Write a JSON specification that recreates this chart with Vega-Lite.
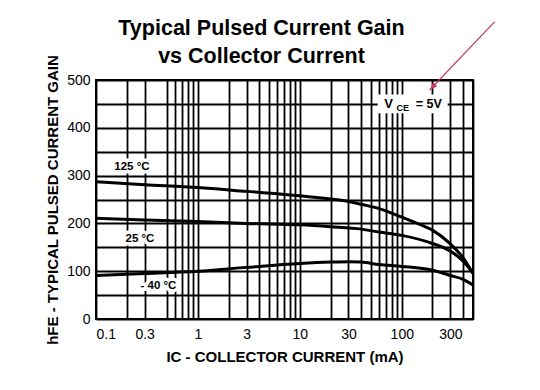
{
  "$schema": "https://vega.github.io/schema/vega-lite/v6.json",
  "autosize": {"type": "none"},
  "width": 377,
  "height": 239,
  "padding": {"left": 96, "top": 80, "right": 67, "bottom": 71},
  "background": "white",
  "config": {
    "font": "Liberation Sans",
    "view": {"stroke": "black", "strokeWidth": 2},
    "axis": {
      "grid": true, "gridColor": "black", "gridWidth": 1.8, "gridOpacity": 1,
      "domain": false, "ticks": false,
      "labelFont": "Liberation Sans", "labelFontSize": 14, "labelColor": "black",
      "titleFont": "Liberation Sans", "titleFontSize": 15, "titleFontWeight": "bold", "titleColor": "black"
    }
  },
  "title": {
    "text": ["Typical Pulsed Current Gain", "vs Collector Current"],
    "font": "Liberation Sans", "fontSize": 21.5, "fontWeight": "bold", "color": "black",
    "lineHeight": 28, "anchor": "middle", "dx": -23, "dy": 58, "offset": 12
  },
  "datasets": {
    "curves": [
      {"ic": 0.1, "hfe": 287, "temp": "125"}, {"ic": 0.3, "hfe": 281, "temp": "125"}, {"ic": 1, "hfe": 275, "temp": "125"},
      {"ic": 3, "hfe": 267, "temp": "125"}, {"ic": 10, "hfe": 258, "temp": "125"}, {"ic": 20, "hfe": 251, "temp": "125"},
      {"ic": 30, "hfe": 246, "temp": "125"}, {"ic": 40, "hfe": 240, "temp": "125"}, {"ic": 60, "hfe": 231, "temp": "125"},
      {"ic": 100, "hfe": 213, "temp": "125"}, {"ic": 150, "hfe": 198, "temp": "125"}, {"ic": 200, "hfe": 186, "temp": "125"},
      {"ic": 300, "hfe": 157, "temp": "125"}, {"ic": 400, "hfe": 128, "temp": "125"}, {"ic": 500, "hfe": 95, "temp": "125"},
      {"ic": 0.1, "hfe": 211, "temp": "25"}, {"ic": 0.3, "hfe": 207, "temp": "25"}, {"ic": 1, "hfe": 204, "temp": "25"},
      {"ic": 3, "hfe": 200, "temp": "25"}, {"ic": 10, "hfe": 197, "temp": "25"}, {"ic": 20, "hfe": 193, "temp": "25"},
      {"ic": 40, "hfe": 188, "temp": "25"}, {"ic": 60, "hfe": 182, "temp": "25"}, {"ic": 100, "hfe": 175, "temp": "25"},
      {"ic": 200, "hfe": 158, "temp": "25"}, {"ic": 300, "hfe": 142, "temp": "25"}, {"ic": 400, "hfe": 121, "temp": "25"},
      {"ic": 500, "hfe": 96, "temp": "25"},
      {"ic": 0.1, "hfe": 91, "temp": "-40"}, {"ic": 0.3, "hfe": 95, "temp": "-40"}, {"ic": 1, "hfe": 100, "temp": "-40"},
      {"ic": 3, "hfe": 108, "temp": "-40"}, {"ic": 10, "hfe": 116, "temp": "-40"}, {"ic": 20, "hfe": 119, "temp": "-40"},
      {"ic": 30, "hfe": 120, "temp": "-40"}, {"ic": 40, "hfe": 119, "temp": "-40"}, {"ic": 60, "hfe": 114, "temp": "-40"},
      {"ic": 100, "hfe": 110, "temp": "-40"}, {"ic": 200, "hfe": 102, "temp": "-40"}, {"ic": 300, "hfe": 91, "temp": "-40"},
      {"ic": 400, "hfe": 83, "temp": "-40"}, {"ic": 500, "hfe": 71, "temp": "-40"}
    ],
    "labels": [
      {"ic": 0.225, "hfe": 318, "label": "125 °C"},
      {"ic": 0.27, "hfe": 167, "label": "25 °C"},
      {"ic": 0.41, "hfe": 69, "label": "- 40 °C"}
    ],
    "vce": [{"ic": 128, "hfe": 450}],
    "arrow": [{"ic": 817, "hfe": 622, "ic2": 188, "hfe2": 479}]
  },
  "encoding": {
    "x": {
      "field": "ic", "type": "quantitative",
      "scale": {"type": "log", "domain": [0.1, 500], "nice": false},
      "axis": {
        "title": "IC - COLLECTOR CURRENT  (mA)",
        "values": [0.1, 0.2, 0.3, 0.5, 0.6, 0.7, 0.8, 0.9, 1, 2, 3, 4, 5, 6, 7, 8, 9, 10, 20, 30, 40, 50, 60, 70, 80, 90, 100, 200, 300, 400, 500],
        "format": "~g",
        "labelExpr": "indexof([0.1, 0.3, 1, 3, 10, 30, 100, 300], datum.value) >= 0 ? datum.label : ''",
        "labelOverlap": false, "labelPadding": 8, "titlePadding": 8
      }
    },
    "y": {
      "field": "hfe", "type": "quantitative",
      "scale": {"domain": [0, 500], "nice": false},
      "axis": {
        "title": "hFE - TYPICAL PULSED CURRENT GAIN",
        "values": [0, 50, 100, 150, 200, 250, 300, 350, 400, 450, 500],
        "labelExpr": "datum.value % 100 === 0 ? datum.label : ''",
        "labelOverlap": false, "labelPadding": 6, "titlePadding": 6
      }
    }
  },
  "layer": [
    {
      "data": {"name": "curves"},
      "mark": {"type": "line", "color": "black", "strokeWidth": 3, "interpolate": "monotone"},
      "encoding": {"detail": {"field": "temp"}}
    },
    {
      "data": {"name": "labels"},
      "mark": {"type": "text", "font": "Liberation Sans", "fontSize": 11.5, "fontWeight": "bold", "stroke": "white", "strokeWidth": 7, "color": "white", "baseline": "middle"},
      "encoding": {"text": {"field": "label"}}
    },
    {
      "data": {"name": "labels"},
      "mark": {"type": "text", "font": "Liberation Sans", "fontSize": 11.5, "fontWeight": "bold", "color": "black", "baseline": "middle"},
      "encoding": {"text": {"field": "label"}}
    },
    {
      "data": {"name": "vce"},
      "mark": {"type": "point", "shape": "M-1,-0.27L1,-0.27L1,0.27L-1,0.27Z", "size": 4900, "filled": true, "color": "white", "opacity": 1, "strokeWidth": 0}
    },
    {
      "data": {"name": "vce"},
      "mark": {"type": "text", "text": "V", "font": "Liberation Sans", "fontSize": 13, "fontWeight": "bold", "color": "black", "baseline": "middle", "dx": -24}
    },
    {
      "data": {"name": "vce"},
      "mark": {"type": "text", "text": "CE", "font": "Liberation Sans", "fontSize": 9, "fontWeight": "bold", "color": "black", "baseline": "middle", "dx": -10, "dy": 4}
    },
    {
      "data": {"name": "vce"},
      "mark": {"type": "text", "text": "= 5V", "font": "Liberation Sans", "fontSize": 12.5, "fontWeight": "bold", "color": "black", "baseline": "middle", "dx": 16}
    },
    {
      "data": {"name": "arrow"},
      "mark": {"type": "rule", "color": "#c23b62", "strokeWidth": 1.2},
      "encoding": {"x2": {"field": "ic2"}, "y2": {"field": "hfe2"}}
    },
    {
      "data": {"name": "arrow"},
      "mark": {"type": "point", "shape": "M0,0L-0.35,1L0.35,1Z", "size": 256, "filled": true, "color": "#c23b62", "opacity": 1, "angle": 223.6, "strokeWidth": 0},
      "encoding": {"x": {"field": "ic2", "type": "quantitative"}, "y": {"field": "hfe2", "type": "quantitative"}}
    }
  ]
}
